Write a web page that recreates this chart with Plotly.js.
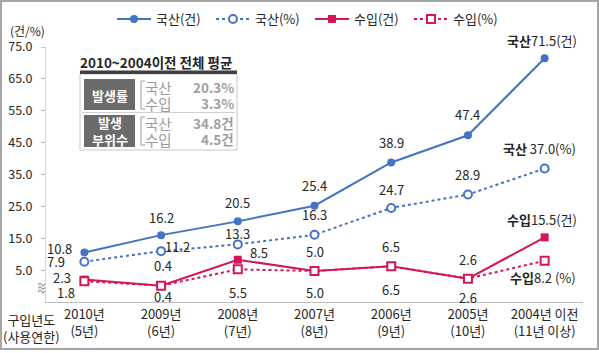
<!DOCTYPE html>
<html>
<head>
<meta charset="utf-8">
<script src="https://cdn.plot.ly/plotly-3.0.1.min.js"></script>
<style>
  html, body { margin: 0; padding: 0; background: #fff; }
  #wrap { position: relative; width: 599px; height: 353px; }
  #chart { width: 599px; height: 353px; }
  #frame { position: absolute; left: 0px; top: 0px; width: 595px; height: 346px;
           border: 2px solid #a6a6a6; pointer-events: none; }
</style>
</head>
<body>
<div id="wrap">
  <div id="chart"></div>
  <div id="frame"></div>
</div>
<script>
// ---------------- data ----------------
const categories = ['2010년', '2009년', '2008년', '2007년', '2006년', '2005년', '2004년 이전'];
const useYears   = ['(5년)', '(6년)', '(7년)', '(8년)', '(9년)', '(10년)', '(11년 이상)'];
const domCount = [10.8, 16.2, 20.5, 25.4, 38.9, 47.4, 71.5];   // 국산(건)
const domRate  = [7.9, 11.2, 13.3, 16.3, 24.7, 28.9, 37.0];    // 국산(%)
const impCount = [2.3, 0.4, 8.5, 5.0, 6.5, 2.6, 15.5];         // 수입(건)
const impRate  = [1.8, 0.4, 5.5, 5.0, 6.5, 2.6, 8.2];          // 수입(%)
const yTicks = [5, 15, 25, 35, 45, 55, 65, 75];
const seriesNames = ['국산(건)', '국산(%)', '수입(건)', '수입(%)'];
const summaryTitle = '2010~2004이전 전체 평균';
const summaryGroups = ['발생률', '발생<br>부위수'];
const summaryOrigins = ['국산', '수입', '국산', '수입'];
const summaryValues = ['20.3%', '3.3%', '34.8건', '4.5건'];

// ---------------- style ----------------
const BLUE = '#4472c4';
const PINK = '#d6145c';
const TXT = '#262626';
const KFONT = '"Noto Sans CJK KR", "Noto Sans", sans-serif';

// plot area in pixels
const L = 46, T = 47, W = 537, H = 255;
const px = x => (x - L) / W;
const py = y => (T + H - y) / H;

const fmt = v => v.toFixed(1);

// label texts (last points carry a series prefix)
const lastIdx = categories.length - 1;
const domCountText = domCount.map((v, i) => i === lastIdx ? '<b>국산</b>' + fmt(v) + '(건)' : fmt(v));
const domRateText  = domRate.map((v, i) => i === lastIdx ? '<b>국산</b> ' + fmt(v) + '(%)' : fmt(v));
const impCountText = impCount.map((v, i) => i === lastIdx ? '<b>수입</b>' + fmt(v) + '(건)' : fmt(v));
const impRateText  = impRate.map((v, i) => i === lastIdx ? '<b>수입</b>' + fmt(v) + ' (%)' : fmt(v));

// label offsets in px (dx right, dy down)
const offDomCount = [[-25, -4], [0, -18], [0, -19], [0, -20], [0, -20], [0, -21], [-3, -18]];
const offDomRate  = [[-28, 0], [16, -5], [0, -11], [0, -20], [0, -18], [0, -20], [-5, -20]];
const offImpCount = [[-22, -2], [2, -20], [21, -7], [0, -19], [0, -20], [0, -19], [-3, -18]];
const offImpRate  = [[-18, 11], [2, 11], [0, 23], [0, 22], [0, 23], [0, 19], [-2, 17]];

const annotations = [];
function addLabels(vals, texts, offs) {
  vals.forEach((v, i) => {
    annotations.push({
      x: categories[i], y: v, xref: 'x', yref: 'y', text: texts[i], showarrow: false,
      xanchor: 'center', yanchor: 'middle',
      xshift: offs[i][0], yshift: -offs[i][1],
      font: { family: KFONT, size: 13, color: TXT }
    });
  });
}
addLabels(domCount, domCountText, offDomCount);
addLabels(domRate, domRateText, offDomRate);
addLabels(impCount, impCountText, offImpCount);
addLabels(impRate, impRateText, offImpRate);

function note(x, y, text, font, xanchor) {
  annotations.push({ xref: 'paper', yref: 'paper', x: px(x), y: py(y), text: text,
    xanchor: xanchor || 'center', yanchor: 'middle', showarrow: false, font: font });
}

// unit and axis caption
note(27, 30, '(건/%)', { family: KFONT, size: 12, color: TXT });
note(31, 328, '구입년도<br>(사용연한)', { family: KFONT, size: 13, color: TXT });

// summary box
note(156, 62, '<b>' + summaryTitle + '</b>', { family: KFONT, size: 13.5, color: TXT });
note(110, 95, '<b>' + summaryGroups[0] + '</b>', { family: KFONT, size: 13, color: '#ffffff' });
note(110, 131, '<b>' + summaryGroups[1] + '</b>', { family: KFONT, size: 13, color: '#ffffff' });
const rowsY = [87, 103, 123, 139];
summaryOrigins.forEach((o, i) => {
  note(158, rowsY[i], o, { family: KFONT, size: 14.5, color: '#9a9a9a' });
  note(236, rowsY[i], '<b>' + summaryValues[i] + '</b>', { family: KFONT, size: 13.5, color: '#a0a0a0' }, 'right');
});

const bracket = (y0, y1) => 'M' + px(145) + ',' + py(y0) + ' L' + px(141) + ',' + py(y0) +
  ' L' + px(141) + ',' + py(y1) + ' L' + px(145) + ',' + py(y1);
const wave = y => 'M' + px(38) + ',' + py(y) + ' L' + px(40) + ',' + py(y - 2) +
  ' L' + px(43) + ',' + py(y + 1) + ' L' + px(45) + ',' + py(y - 1);

const shapes = [
  { type: 'rect', xref: 'paper', yref: 'paper', x0: px(80), x1: px(237), y0: py(150), y1: py(74),
    fillcolor: '#ffffff', line: { color: '#c8c8c8', width: 1 }, layer: 'below' },
  { type: 'rect', xref: 'paper', yref: 'paper', x0: px(80), x1: px(237), y0: py(74), y1: py(70.5),
    fillcolor: '#3f3f3f', line: { width: 0 }, layer: 'below' },
  { type: 'line', xref: 'paper', yref: 'paper', x0: px(82), x1: px(235), y0: py(112.5), y1: py(112.5),
    line: { color: '#d0d0d0', width: 1 }, layer: 'below' },
  { type: 'rect', xref: 'paper', yref: 'paper', x0: px(84), x1: px(135), y0: py(110), y1: py(79),
    fillcolor: '#6b6b6b', line: { width: 0 }, layer: 'below' },
  { type: 'rect', xref: 'paper', yref: 'paper', x0: px(84), x1: px(135), y0: py(147), y1: py(115),
    fillcolor: '#6b6b6b', line: { width: 0 }, layer: 'below' },
  { type: 'path', xref: 'paper', yref: 'paper', path: bracket(81, 109), line: { color: '#9a9a9a', width: 1 }, layer: 'below' },
  { type: 'path', xref: 'paper', yref: 'paper', path: bracket(117, 145), line: { color: '#9a9a9a', width: 1 }, layer: 'below' },
  { type: 'path', xref: 'paper', yref: 'paper', path: wave(285), line: { color: '#a0a0a0', width: 1.2 } },
  { type: 'path', xref: 'paper', yref: 'paper', path: wave(288.5), line: { color: '#a0a0a0', width: 1.2 } },
  { type: 'path', xref: 'paper', yref: 'paper', path: wave(292), line: { color: '#a0a0a0', width: 1.2 } }
];

const traces = [
  { x: categories, y: domCount, name: seriesNames[0], type: 'scatter', mode: 'lines+markers',
    line: { color: BLUE, width: 2 }, marker: { color: BLUE, size: 8, symbol: 'circle' }, cliponaxis: false },
  { x: categories, y: domRate, name: seriesNames[1], type: 'scatter', mode: 'lines+markers',
    line: { color: BLUE, width: 2, dash: 'dot' },
    marker: { color: '#ffffff', size: 8, symbol: 'circle', line: { color: BLUE, width: 2 } }, cliponaxis: false },
  { x: categories, y: impCount, name: seriesNames[2], type: 'scatter', mode: 'lines+markers',
    line: { color: PINK, width: 2 }, marker: { color: PINK, size: 8, symbol: 'square' }, cliponaxis: false },
  { x: categories, y: impRate, name: seriesNames[3], type: 'scatter', mode: 'lines+markers',
    line: { color: PINK, width: 2, dash: 'dot' },
    marker: { color: '#ffffff', size: 8, symbol: 'square', line: { color: PINK, width: 2 } }, cliponaxis: false }
];

const layout = {
  width: 599, height: 353,
  margin: { l: L, r: 599 - L - W, t: T, b: 353 - T - H, pad: 0, autoexpand: false },
  paper_bgcolor: '#ffffff', plot_bgcolor: 'rgba(0,0,0,0)',
  font: { family: KFONT, size: 13, color: TXT },
  showlegend: true,
  legend: {
    orientation: 'h', x: px(112), y: py(19), xanchor: 'left', yanchor: 'middle',
    entrywidth: 50, entrywidthmode: 'pixels', itemwidth: 34,
    font: { family: KFONT, size: 13, color: TXT }, bgcolor: 'rgba(0,0,0,0)'
  },
  xaxis: {
    type: 'category', range: [-0.5, 6.5],
    tickvals: categories, ticktext: categories.map((c, i) => c + '<br>' + useYears[i]),
    showgrid: false, zeroline: false, showline: true, linecolor: '#bfbfbf', linewidth: 1,
    ticks: '', tickfont: { family: KFONT, size: 13, color: TXT }, fixedrange: true
  },
  yaxis: {
    range: [-4.7, 75], tickvals: yTicks, ticktext: yTicks.map(fmt),
    showgrid: false, zeroline: false, showline: true, linecolor: '#d9d9d9', linewidth: 1,
    ticks: 'outside', ticklen: 4, tickcolor: '#bfbfbf', ticklabelstandoff: 6,
    tickfont: { family: KFONT, size: 12.5, color: TXT }, fixedrange: true
  },
  annotations: annotations,
  shapes: shapes
};

Plotly.newPlot('chart', traces, layout, { staticPlot: true, displayModeBar: false });
</script>
</body>
</html>
